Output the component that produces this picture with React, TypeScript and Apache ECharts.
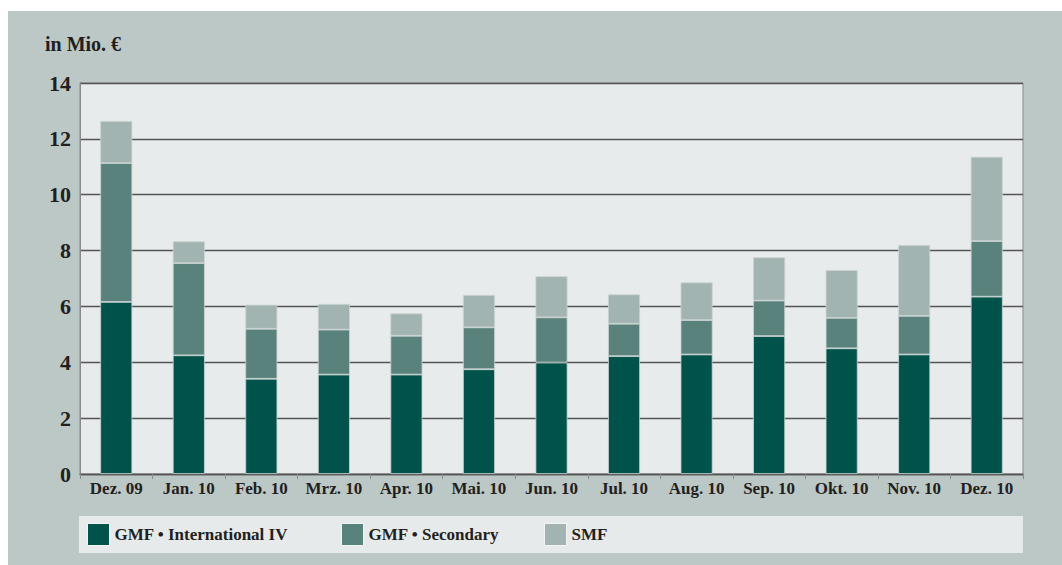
import React, { useEffect, useRef } from "react";
import * as echarts from "echarts";

const categories = [
  "Dez. 09", "Jan. 10", "Feb. 10", "Mrz. 10", "Apr. 10", "Mai. 10", "Jun. 10",
  "Jul. 10", "Aug. 10", "Sep. 10", "Okt. 10", "Nov. 10", "Dez. 10",
];
const seriesNames = ["GMF • International IV", "GMF • Secondary", "SMF"];
const international = [6.16, 4.25, 3.41, 3.56, 3.56, 3.75, 3.99, 4.22, 4.28, 4.94, 4.5, 4.28, 6.35];
const secondary = [4.97, 3.3, 1.79, 1.61, 1.39, 1.5, 1.62, 1.16, 1.23, 1.27, 1.09, 1.38, 1.99];
const smf = [1.51, 0.78, 0.86, 0.92, 0.8, 1.16, 1.47, 1.05, 1.35, 1.55, 1.71, 2.54, 3.02];
const yTicks = { min: 0, max: 14, interval: 2 };
const unitLabel = "in Mio. €";

const colors = ["#00534a", "#58827b", "#a2b4b1"];
const FONT = "Liberation Serif";
const TEXT = "#231f20";

export default function App() {
  const ref = useRef<HTMLDivElement>(null);
  useEffect(() => {
    if (!ref.current) return;
    const chart = echarts.init(ref.current, null, { renderer: "svg" });
    const values = [international, secondary, smf];
    const legendLeft = [87, 341, 544];
    chart.setOption({
      animation: false,
      backgroundColor: "#ffffff",
      graphic: [
        { type: "rect", z: -10, shape: { x: 8, y: 11, width: 1054, height: 554 }, style: { fill: "#bcc8c5" } },
        { type: "rect", z: -5, shape: { x: 79, y: 516, width: 944, height: 37 }, style: { fill: "#e6eaea" } },
        {
          type: "text", x: 45, y: 44,
          style: { text: unitLabel, fill: TEXT, fontFamily: FONT, fontWeight: "bold", fontSize: 20, verticalAlign: "middle", align: "left" },
        },
      ],
      grid: {
        left: 80, right: 39, top: 83, bottom: 91,
        show: true, backgroundColor: "#e7ebeb", borderColor: "#8a8a8a", borderWidth: 1,
      },
      legend: seriesNames.map((n, i) => ({
        data: [n],
        left: legendLeft[i],
        top: 523,
        padding: 0,
        itemWidth: 22,
        itemHeight: 22,
        itemGap: 6,
        icon: "rect",
        itemStyle: { borderColor: "#f2f4f4", borderWidth: 1 },
        textStyle: { fontFamily: FONT, fontWeight: "bold", fontSize: 17, color: TEXT, padding: [2, 0, 0, 0] },
        selectedMode: false,
      })),
      xAxis: {
        type: "category",
        data: categories,
        boundaryGap: true,
        axisLine: { show: true, lineStyle: { color: "#555", width: 1.3 } },
        axisTick: { show: true, length: 5, lineStyle: { color: "#8a8a8a" } },
        axisLabel: { fontFamily: FONT, fontWeight: "bold", fontSize: 17, color: TEXT, margin: 6, interval: 0 },
      },
      yAxis: {
        type: "value",
        min: yTicks.min,
        max: yTicks.max,
        interval: yTicks.interval,
        axisLine: { show: true, lineStyle: { color: "#8a8a8a" } },
        axisTick: { show: false },
        splitLine: { show: true, lineStyle: { color: "#555", width: 1.3 } },
        axisLabel: { fontFamily: FONT, fontWeight: "bold", fontSize: 22, color: TEXT, margin: 9 },
      },
      series: seriesNames.map((n, i) => ({
        name: n,
        type: "bar",
        stack: "total",
        barWidth: 32,
        data: values[i],
        itemStyle: { color: colors[i], borderColor: "#c9d3d1", borderWidth: 0.8 },
      })),
    });
    return () => chart.dispose();
  }, []);
  return (
    <div style={{ position: "absolute", left: 0, top: 0, width: 1062, height: 565 }}>
      <div ref={ref} style={{ width: 1062, height: 565 }} />
    </div>
  );
}
